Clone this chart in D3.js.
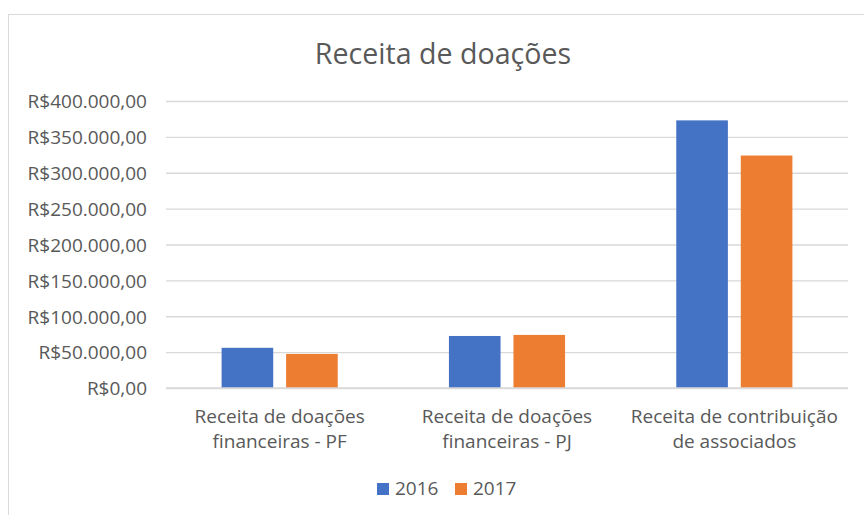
<!DOCTYPE html>
<html>
<head>
<meta charset="utf-8">
<script src="https://cdn.jsdelivr.net/npm/d3@7"></script>
<style>
  body { margin: 0; background: #fff; }
  svg text { font-family: "Open Sans", "Noto Sans", sans-serif; fill: #595959; }
</style>
</head>
<body>
<div id="chart"></div>
<script>
// dados
const categories = [
  ["Receita de doações", "financeiras - PF"],
  ["Receita de doações", "financeiras - PJ"],
  ["Receita de contribuição", "de associados"]
];
const seriesNames = ["2016", "2017"];
const values2016 = [56000, 72500, 373000];
const values2017 = [47500, 74000, 324000];
const yTicks = [0, 50000, 100000, 150000, 200000, 250000, 300000, 350000, 400000];
const colors = ["#4472C4", "#ED7D31"];

const W = 864, H = 515;
const plot = { left: 166, right: 848, top: 101, bottom: 388 };

const svg = d3.select("#chart").append("svg")
  .attr("width", W).attr("height", H);

// moldura do gráfico
svg.append("rect")
  .attr("x", 8.5).attr("y", 14.5)
  .attr("width", 870).attr("height", 520)
  .attr("fill", "#fff")
  .attr("stroke", "#d9d9d9");

// título
svg.append("text")
  .attr("x", 443).attr("y", 64)
  .attr("text-anchor", "middle")
  .style("font-size", "28.6px")
  .text("Receita de doações");

const catKeys = categories.map((c, i) => i);
const x0 = d3.scaleBand().domain(catKeys).range([plot.left, plot.right]).padding(0);
const groupPad = 55.6;
const x1 = d3.scaleBand().domain(seriesNames)
  .range([groupPad, x0.bandwidth() - groupPad]).paddingInner(0.2).paddingOuter(0);
const y = d3.scaleLinear().domain([0, 400000]).range([plot.bottom, plot.top]);

const fmt = v => "R$" + d3.format(",.2f")(v).replace(/,/g, "#").replace(".", ",").replace(/#/g, ".");

// grade e eixo Y
const yAxis = svg.append("g")
  .attr("transform", `translate(${plot.left},0)`)
  .call(d3.axisLeft(y).tickValues(yTicks).tickSize(-(plot.right - plot.left)).tickPadding(19).tickFormat(fmt));
yAxis.select(".domain").remove();
yAxis.selectAll(".tick line").attr("stroke", "#d9d9d9").attr("stroke-width", 1.3);
yAxis.selectAll(".tick text")
  .attr("fill", "#595959")
  .style("font-size", "19px")
  .style("font-family", "'Open Sans', 'Noto Sans', sans-serif")
  .attr("dy", "0.36em");

// barras
const rows = catKeys.map(i => ({ cat: i, vals: [values2016[i], values2017[i]] }));
const groups = svg.selectAll(".grp").data(rows).enter().append("g")
  .attr("class", "grp")
  .attr("transform", d => `translate(${x0(d.cat)},0)`);
groups.selectAll("rect")
  .data(d => d.vals.map((v, j) => ({ key: seriesNames[j], v, j })))
  .enter().append("rect")
  .attr("x", d => x1(d.key))
  .attr("y", d => y(d.v))
  .attr("width", x1.bandwidth())
  .attr("height", d => y(0) - y(d.v))
  .attr("fill", d => colors[d.j]);

// linha base
svg.append("line")
  .attr("x1", plot.left).attr("x2", plot.right)
  .attr("y1", y(0)).attr("y2", y(0))
  .attr("stroke", "#d9d9d9").attr("stroke-width", 1.3);

// rótulos das categorias
svg.selectAll(".cat-label").data(categories).enter().append("text")
  .attr("class", "cat-label")
  .attr("text-anchor", "middle")
  .style("font-size", "19px")
  .attr("transform", (d, i) => `translate(${x0(i) + x0.bandwidth() / 2},423)`)
  .selectAll("tspan").data(d => d).enter().append("tspan")
  .attr("x", 0).attr("y", (d, i) => i * 25)
  .text(d => d);

// legenda
const legendX = [377, 455];
const legend = svg.selectAll(".leg").data(seriesNames).enter().append("g")
  .attr("transform", (d, i) => `translate(${legendX[i]},483)`);
legend.append("rect").attr("width", 12).attr("height", 12).attr("fill", (d, i) => colors[i]);
legend.append("text").attr("x", 18).attr("y", 12).style("font-size", "19px").text(d => d);
</script>
</body>
</html>
